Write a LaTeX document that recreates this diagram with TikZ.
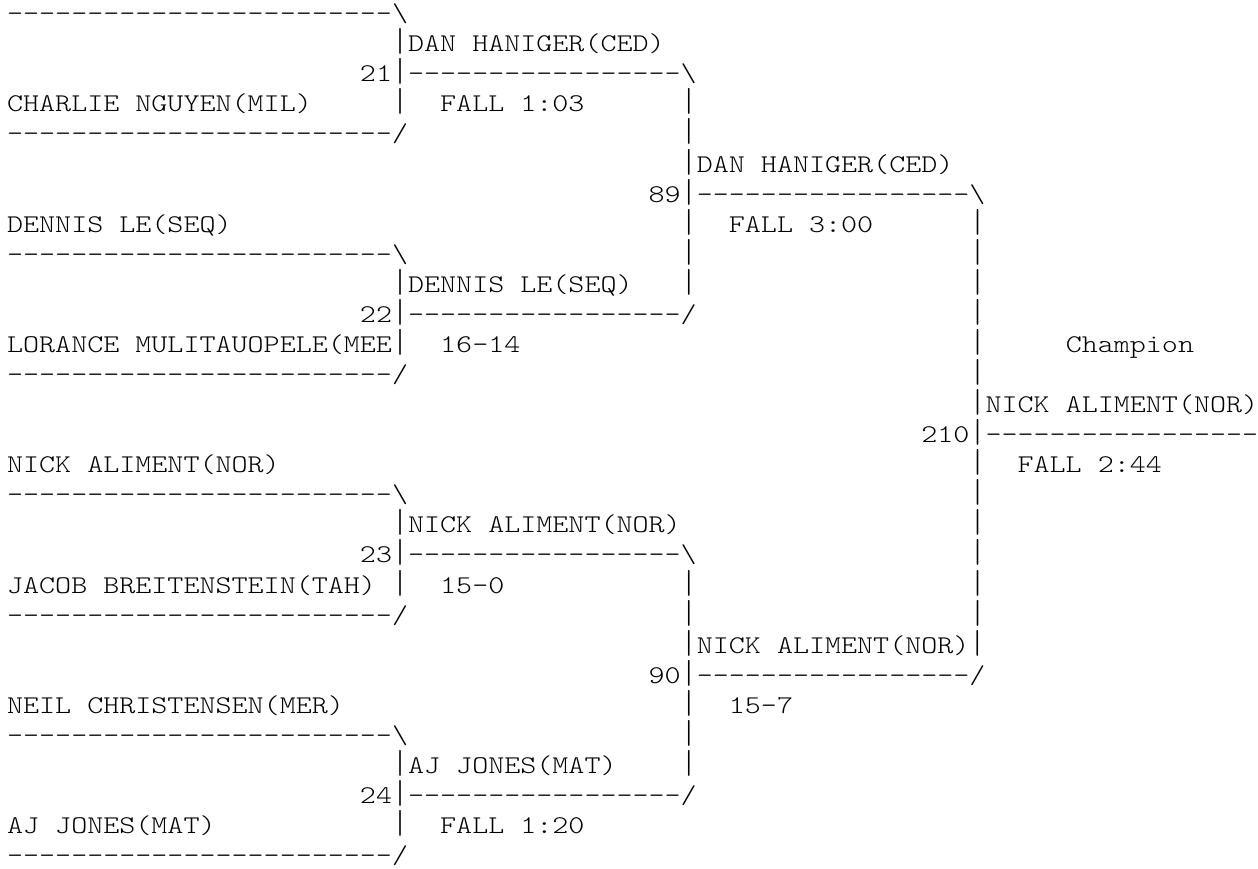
\documentclass[tikz,border=0pt]{standalone}
\usepackage{fontspec}
\usepackage{graphicx}
\setmonofont{Latin Modern Mono Light}[FakeStretch=1.198]
\def\bkCW{16.04}
\def\bkXO{7.1}
\def\bkBO{21.7}
\def\bkLH{30.07}
\def\bkDsix{------}
\newcommand\bkDxxiv{\bkDsix\bkDsix\bkDsix\bkDsix}
\newcommand\bkDxvii{\bkDsix\bkDsix-----}
\newcommand\bkBS{\textbackslash}
\newcommand\bkBar{\scalebox{1}[1.3]{|}}
\tikzset{asciitxt/.style={anchor=base west,inner sep=0pt,outer sep=0pt,
  font=\ttfamily\fontsize{25.5}{30}\selectfont,text=black}}
\newcommand\bkSeg[4]{\node[asciitxt] (#1) at ({\bkXO+#2*\bkCW},{869-(\bkBO+#3*\bkLH)}) {#4};}
\begin{document}
\begin{tikzpicture}[x=1pt,y=1pt]
\fill[white] (0,0) rectangle (1258,869);
\useasboundingbox (0,0) rectangle (1258,869);
\bkSeg{r0a}{0}{0}{\bkDxxiv\bkBS}
\bkSeg{r1a}{24}{1}{\bkBar DAN HANIGER(CED)}
\bkSeg{r2a}{22}{2}{21\bkBar\bkDxvii\bkBS}
\bkSeg{r3a}{0}{3}{CHARLIE NGUYEN(MIL)}
\bkSeg{r3b}{24}{3}{\bkBar}
\bkSeg{r3c}{27}{3}{FALL 1:03}
\bkSeg{r3d}{42}{3}{\bkBar}
\bkSeg{r4a}{0}{4}{\bkDxxiv/}
\bkSeg{r4b}{42}{4}{\bkBar}
\bkSeg{r5a}{42}{5}{\bkBar DAN HANIGER(CED)}
\bkSeg{r6a}{40}{6}{89\bkBar\bkDxvii\bkBS}
\bkSeg{r7a}{0}{7}{DENNIS LE(SEQ)}
\bkSeg{r7b}{42}{7}{\bkBar}
\bkSeg{r7c}{45}{7}{FALL 3:00}
\bkSeg{r7d}{60}{7}{\bkBar}
\bkSeg{r8a}{0}{8}{\bkDxxiv\bkBS}
\bkSeg{r8b}{42}{8}{\bkBar}
\bkSeg{r8c}{60}{8}{\bkBar}
\bkSeg{r9a}{24}{9}{\bkBar DENNIS LE(SEQ)}
\bkSeg{r9b}{42}{9}{\bkBar}
\bkSeg{r9c}{60}{9}{\bkBar}
\bkSeg{r10a}{22}{10}{22\bkBar\bkDxvii/}
\bkSeg{r10b}{60}{10}{\bkBar}
\bkSeg{r11a}{0}{11}{LORANCE MULITAUOPELE(MEE\bkBar}
\bkSeg{r11b}{27}{11}{16-14}
\bkSeg{r11c}{60}{11}{\bkBar}
\bkSeg{r11d}{66}{11}{Champion}
\bkSeg{r12a}{0}{12}{\bkDxxiv/}
\bkSeg{r12b}{60}{12}{\bkBar}
\bkSeg{r13a}{60}{13}{\bkBar NICK ALIMENT(NOR)}
\bkSeg{r14a}{57}{14}{210\bkBar\bkDxvii}
\bkSeg{r15a}{0}{15}{NICK ALIMENT(NOR)}
\bkSeg{r15b}{60}{15}{\bkBar}
\bkSeg{r15c}{63}{15}{FALL 2:44}
\bkSeg{r16a}{0}{16}{\bkDxxiv\bkBS}
\bkSeg{r16b}{60}{16}{\bkBar}
\bkSeg{r17a}{24}{17}{\bkBar NICK ALIMENT(NOR)}
\bkSeg{r17b}{60}{17}{\bkBar}
\bkSeg{r18a}{22}{18}{23\bkBar\bkDxvii\bkBS}
\bkSeg{r18b}{60}{18}{\bkBar}
\bkSeg{r19a}{0}{19}{JACOB BREITENSTEIN(TAH)}
\bkSeg{r19b}{24}{19}{\bkBar}
\bkSeg{r19c}{27}{19}{15-0}
\bkSeg{r19d}{42}{19}{\bkBar}
\bkSeg{r19e}{60}{19}{\bkBar}
\bkSeg{r20a}{0}{20}{\bkDxxiv/}
\bkSeg{r20b}{42}{20}{\bkBar}
\bkSeg{r20c}{60}{20}{\bkBar}
\bkSeg{r21a}{42}{21}{\bkBar NICK ALIMENT(NOR)\bkBar}
\bkSeg{r22a}{40}{22}{90\bkBar\bkDxvii/}
\bkSeg{r23a}{0}{23}{NEIL CHRISTENSEN(MER)}
\bkSeg{r23b}{42}{23}{\bkBar}
\bkSeg{r23c}{45}{23}{15-7}
\bkSeg{r24a}{0}{24}{\bkDxxiv\bkBS}
\bkSeg{r24b}{42}{24}{\bkBar}
\bkSeg{r25a}{24}{25}{\bkBar AJ JONES(MAT)}
\bkSeg{r25b}{42}{25}{\bkBar}
\bkSeg{r26a}{22}{26}{24\bkBar\bkDxvii/}
\bkSeg{r27a}{0}{27}{AJ JONES(MAT)}
\bkSeg{r27b}{24}{27}{\bkBar}
\bkSeg{r27c}{27}{27}{FALL 1:20}
\bkSeg{r28a}{0}{28}{\bkDxxiv/}
\end{tikzpicture}
\end{document}
